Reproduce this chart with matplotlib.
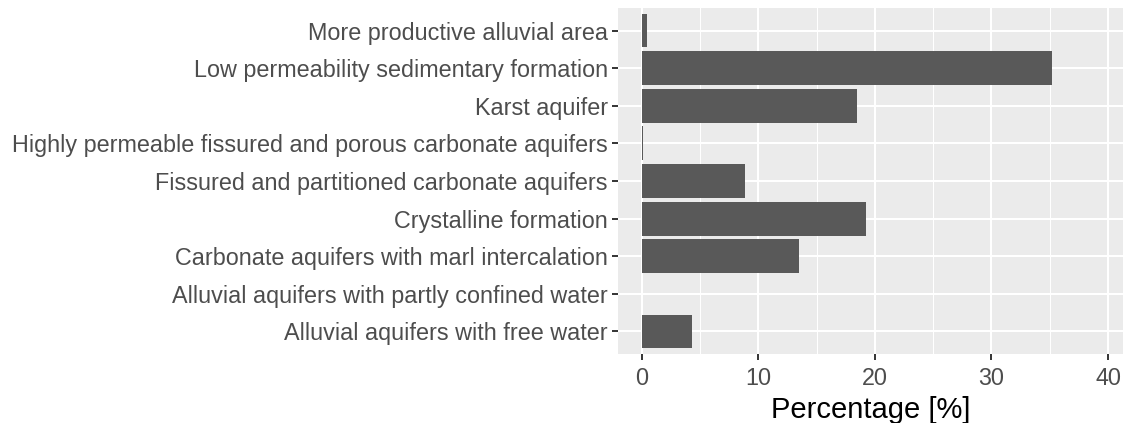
import matplotlib
matplotlib.use('Agg')
import matplotlib.pyplot as plt
from matplotlib.ticker import MultipleLocator

# Categories (bottom to top, as ggplot orders them)
categories = [
    'Alluvial aquifers with free water',
    'Alluvial aquifers with partly confined water',
    'Carbonate aquifers with marl intercalation',
    'Crystalline formation',
    'Fissured and partitioned carbonate aquifers',
    'Highly permeable fissured and porous carbonate aquifers',
    'Karst aquifer',
    'Low permeability sedimentary formation',
    'More productive alluvial area',
]
percentages = [4.3, 0.0, 13.5, 19.2, 8.9, 0.1, 18.5, 35.2, 0.43]
x_ticks = [0, 10, 20, 30, 40]

plt.rcParams['font.family'] = ['Liberation Sans', 'DejaVu Sans']

W, H = 1123, 423
fig = plt.figure(figsize=(W / 100, H / 100), dpi=100)
ax = fig.add_axes([618.4 / W, (H - 354) / H, (W - 618.4) / W, 346 / H])

ax.set_facecolor('#EBEBEB')
ypos = range(len(categories))
ax.barh(ypos, percentages, height=0.9, color='#595959', linewidth=0, zorder=3)

ax.set_xlim(-2, 41.28)
ax.set_ylim(-0.6, len(categories) - 0.4)
ax.set_xticks(x_ticks)
ax.xaxis.set_minor_locator(MultipleLocator(5))
ax.set_yticks(list(ypos))
ax.set_yticklabels(categories)

ax.grid(which='major', color='white', linewidth=1.5, zorder=0)
ax.grid(which='minor', axis='x', color='white', linewidth=0.75, zorder=0)
ax.set_axisbelow(True)

for s in ax.spines.values():
    s.set_visible(False)

ax.tick_params(axis='both', which='major', length=4.5, width=1.4, color='#333333',
               labelcolor='#4D4D4D', labelsize=16.8, pad=3)
ax.tick_params(axis='x', which='major', pad=5)
ax.tick_params(axis='both', which='minor', length=0)
ax.set_xlabel('Percentage [%]', fontsize=21, color='black', labelpad=4.5)

fig.savefig('out.png', dpi=100)
